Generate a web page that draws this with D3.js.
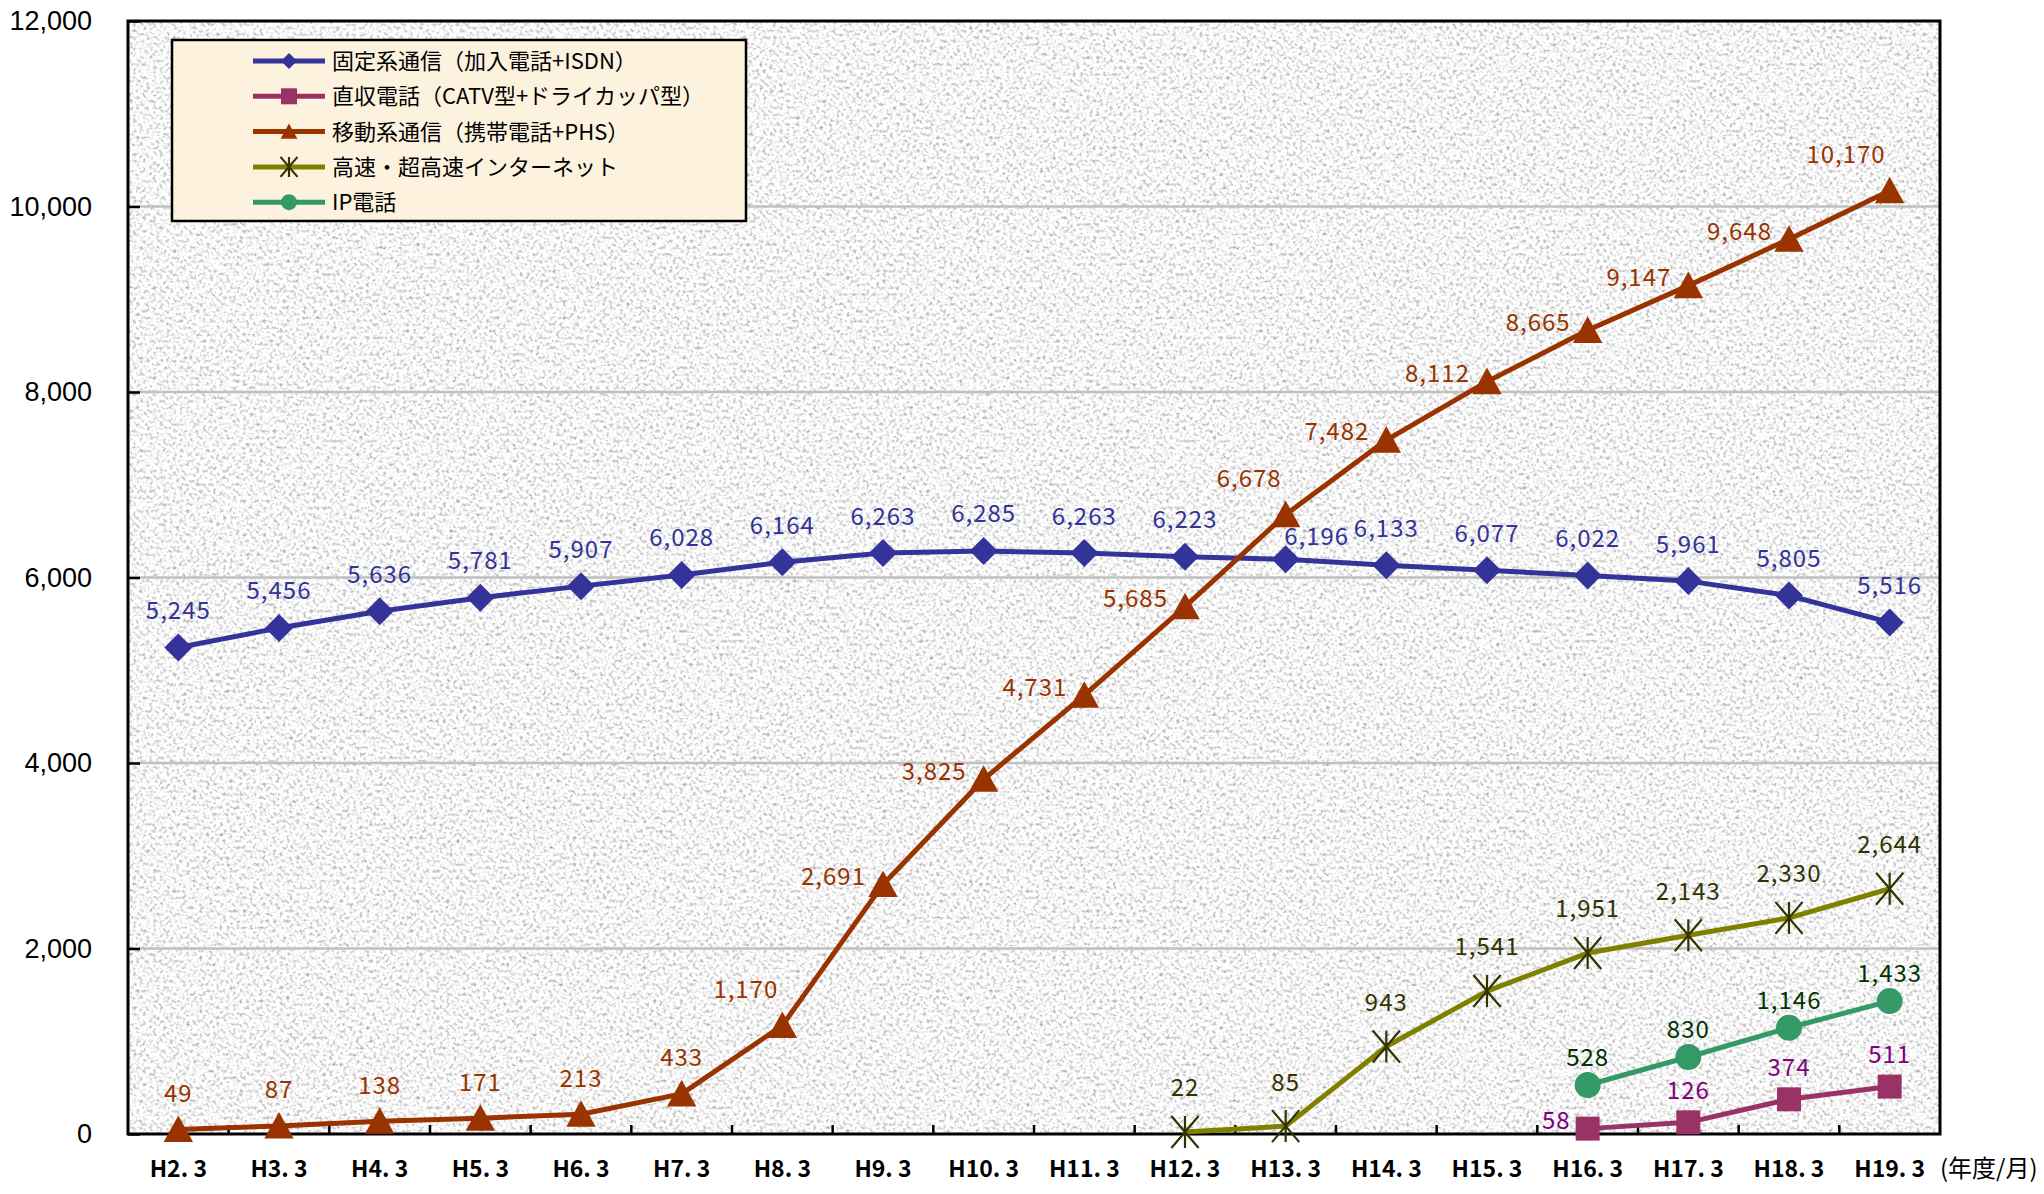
<!DOCTYPE html>
<html>
<head>
<meta charset="utf-8">
<title>契約数の推移</title>
<script src="https://cdn.jsdelivr.net/npm/d3@7/dist/d3.min.js"></script>
<style>
  body { margin: 0; background: #fff; }
  svg text { font-family: "Noto Sans CJK JP", "Noto Sans", sans-serif; }
</style>
</head>
<body>
<div id="chart"></div>
<script>
// categories (fiscal year / month)
var categories = ["H2. 3","H3. 3","H4. 3","H5. 3","H6. 3","H7. 3","H8. 3","H9. 3","H10. 3",
                  "H11. 3","H12. 3","H13. 3","H14. 3","H15. 3","H16. 3","H17. 3","H18. 3","H19. 3"];

// series values (null = no data)
var fixedLine = [5245,5456,5636,5781,5907,6028,6164,6263,6285,6263,6223,6196,6133,6077,6022,5961,5805,5516];
var catvLine  = [null,null,null,null,null,null,null,null,null,null,null,null,null,null,58,126,374,511];
var mobile    = [49,87,138,171,213,433,1170,2691,3825,4731,5685,6678,7482,8112,8665,9147,9648,10170];
var broadband = [null,null,null,null,null,null,null,null,null,null,22,85,943,1541,1951,2143,2330,2644];
var ipPhone   = [null,null,null,null,null,null,null,null,null,null,null,null,null,null,528,830,1146,1433];

var seriesNames = ["固定系通信（加入電話+ISDN）","直収電話（CATV型+ドライカッパ型）",
                   "移動系通信（携帯電話+PHS）","高速・超高速インターネット","IP電話"];
var yTicks = [0,2000,4000,6000,8000,10000,12000];
var unitLabel = "(年度/月)";

// label placement hints: t = above, tl = above-left, l = left, tr = above-right
var fixedPos  = ["t","t","t","t","t","t","t","t","t","t","t","tr","t","t","t","t","t","t"];
var catvPos   = ["","","","","","","","","","","","","","","l","t","t","t"];
var mobilePos = ["t","t","t","t","t","t","tl","l","l","l","l","tl","l","l","l","l","l","tl"];

var W = 2044, H = 1194;
var m = {left: 128, right: 1940, top: 21, bottom: 1134};

var svg = d3.select("#chart").append("svg")
    .attr("width", W).attr("height", H);

// granite-like background texture
var defs = svg.append("defs");
var f = defs.append("filter").attr("id", "granite")
    .attr("x", 0).attr("y", 0).attr("width", "100%").attr("height", "100%");
f.append("feTurbulence").attr("type", "fractalNoise").attr("baseFrequency", 0.3)
    .attr("numOctaves", 2).attr("seed", 7);
f.append("feColorMatrix").attr("type", "matrix")
    .attr("values", "1.5 0 0 0 0.18  1.5 0 0 0 0.18  1.5 0 0 0 0.18  0 0 0 0 1");

var x = d3.scaleBand().domain(categories).range([m.left, m.right]);
var y = d3.scaleLinear().domain([0, 12000]).range([m.bottom, m.top]);
var cx = function(i) { return x(categories[i]) + x.bandwidth() / 2; };

// plot background
svg.append("rect").attr("x", m.left).attr("y", m.top)
    .attr("width", m.right - m.left).attr("height", m.bottom - m.top)
    .attr("fill", "#ebebeb");
svg.append("rect").attr("x", m.left).attr("y", m.top)
    .attr("width", m.right - m.left).attr("height", m.bottom - m.top)
    .attr("filter", "url(#granite)");

// gridlines
svg.append("g").selectAll("line").data(yTicks.slice(1, -1)).enter().append("line")
    .attr("x1", m.left).attr("x2", m.right)
    .attr("y1", function(d) { return y(d); }).attr("y2", function(d) { return y(d); })
    .attr("stroke", "#c0c0c0").attr("stroke-width", 2.5);

// y axis
var yAxis = svg.append("g").attr("transform", "translate(" + m.left + ",0)")
    .call(d3.axisLeft(y).tickValues(yTicks).tickFormat(d3.format(",")).tickSize(-12).tickPadding(36));
yAxis.select(".domain").remove();
yAxis.selectAll(".tick line").attr("stroke", "#000").attr("stroke-width", 2.5);
yAxis.selectAll("text").attr("fill", "#000")
    .style("font-family", "'Liberation Sans', Arial, sans-serif").style("font-size", "27px");

// x axis ticks at band boundaries
svg.append("g").selectAll("line").data(categories.slice(1)).enter().append("line")
    .attr("x1", function(d) { return x(d); }).attr("x2", function(d) { return x(d); })
    .attr("y1", m.bottom).attr("y2", m.bottom - 9)
    .attr("stroke", "#000").attr("stroke-width", 2.5);
svg.append("g").selectAll("text").data(categories).enter().append("text")
    .attr("x", function(d) { return x(d) + x.bandwidth() / 2; })
    .attr("y", 1177)
    .attr("text-anchor", "middle")
    .style("font-size", "23px").style("font-weight", "bold")
    .text(function(d) { return d; });
svg.append("text").attr("x", 1940).attr("y", 1177)
    .style("font-size", "24px").text(unitLabel);

// plot frame
svg.append("rect").attr("x", m.left).attr("y", m.top)
    .attr("width", m.right - m.left).attr("height", m.bottom - m.top)
    .attr("fill", "none").attr("stroke", "#000").attr("stroke-width", 3);

// marker shapes
function marker(g, kind, color, s) {
  if (kind === "diamond") {
    g.append("path").attr("d", "M0," + (-s) + "L" + s + ",0L0," + s + "L" + (-s) + ",0Z").attr("fill", color);
  } else if (kind === "square") {
    g.append("rect").attr("x", -s).attr("y", -s).attr("width", 2 * s).attr("height", 2 * s).attr("fill", color);
  } else if (kind === "triangle") {
    g.append("path").attr("d", "M0," + (-s) + "L" + (s * 1.05) + "," + (s * 0.9) + "L" + (-s * 1.05) + "," + (s * 0.9) + "Z").attr("fill", color);
  } else if (kind === "circle") {
    g.append("circle").attr("r", s).attr("fill", color);
  } else if (kind === "star") {
    var a = s * 0.85, b = s;
    g.append("path").attr("d", "M" + (-a) + "," + (-b) + "L" + a + "," + b + "M" + a + "," + (-b) + "L" + (-a) + "," + b + "M0," + (-b) + "L0," + b)
      .attr("stroke", color).attr("stroke-width", 2.2).attr("fill", "none");
  }
}

var series = [
  {name: seriesNames[0], vals: fixedLine, line: "#333399", mk: "#333399", lab: "#333399", kind: "diamond", size: 14, pos: fixedPos, dy: -37},
  {name: seriesNames[1], vals: catvLine,  line: "#993366", mk: "#993366", lab: "#800080", kind: "square",   size: 12, pos: catvPos, dy: -32},
  {name: seriesNames[2], vals: mobile,    line: "#993300", mk: "#993300", lab: "#993300", kind: "triangle", size: 14, pos: mobilePos, dy: -36},
  {name: seriesNames[3], vals: broadband, line: "#808000", mk: "#333300", lab: "#333300", kind: "star",     size: 16, pos: null, dy: -44},
  {name: seriesNames[4], vals: ipPhone,   line: "#339966", mk: "#339966", lab: "#003300", kind: "circle",   size: 13, pos: null, dy: -27}
];

var lineGen = d3.line()
    .defined(function(d) { return d.v !== null; })
    .x(function(d) { return cx(d.i); })
    .y(function(d) { return y(d.v); });

// draw order: fixed, catv, broadband, ip, mobile on top
[0, 1, 3, 4, 2].forEach(function(k) {
  var s = series[k];
  var pts = s.vals.map(function(v, i) { return {v: v, i: i}; });
  var g = svg.append("g");
  g.append("path").datum(pts).attr("d", lineGen)
    .attr("fill", "none").attr("stroke", s.line).attr("stroke-width", 5).attr("stroke-linejoin", "round");
  pts.filter(function(d) { return d.v !== null; }).forEach(function(d) {
    var mg = g.append("g").attr("transform", "translate(" + cx(d.i) + "," + y(d.v) + ")");
    marker(mg, s.kind, s.mk, s.size);
  });
});

// data labels
series.forEach(function(s) {
  var g = svg.append("g");
  s.vals.forEach(function(v, i) {
    if (v === null) return;
    var p = s.pos ? s.pos[i] : "t";
    var px = cx(i), py = y(v), anchor = "middle", dx = 0, dy = s.dy;
    if (p === "tl") { anchor = "end"; dx = -4; dy = -36; }
    else if (p === "l") { anchor = "end"; dx = -17; dy = -8; }
    else if (p === "tr") { dx = 31; dy = -23; }
    g.append("text")
      .attr("x", px + dx).attr("y", py + dy).attr("dy", "0.35em")
      .attr("text-anchor", anchor)
      .attr("fill", s.lab)
      .style("font-size", "24px").style("letter-spacing", "1px")
      .text(d3.format(",")(v));
  });
});

// legend
var lg = svg.append("g");
lg.append("rect").attr("x", 172).attr("y", 40).attr("width", 574).attr("height", 181)
  .attr("fill", "#fdf2dd").attr("stroke", "#000").attr("stroke-width", 2.5);
series.forEach(function(s, k) {
  var yy = 61 + k * 35.3;
  lg.append("line").attr("x1", 253).attr("x2", 325).attr("y1", yy).attr("y2", yy)
    .attr("stroke", s.line).attr("stroke-width", 5);
  var mg = lg.append("g").attr("transform", "translate(289," + yy + ")");
  marker(mg, s.kind, s.mk, s.kind === "star" ? 10 : 8);
  lg.append("text").attr("x", 332).attr("y", yy).attr("dy", "0.36em")
    .style("font-size", "22px").attr("fill", "#000").text(s.name);
});
</script>
</body>
</html>
